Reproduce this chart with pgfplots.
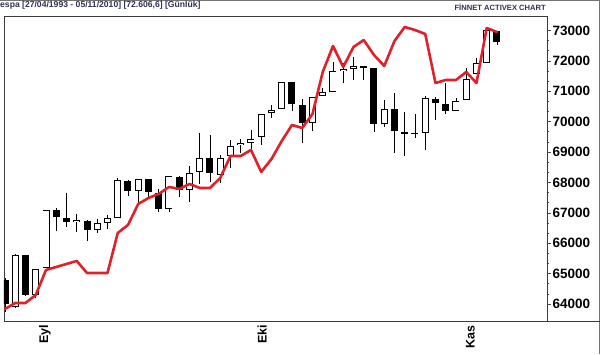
\documentclass[border=0pt]{standalone}
\usepackage{pgfplots}
\pgfplotsset{compat=1.18}
\usepackage{pgfplotstable}
\usepackage{fontspec}
\setmainfont{Liberation Sans}
\definecolor{redline}{RGB}{222,34,42}
\definecolor{headcol}{RGB}{48,48,88}
\definecolor{framecol}{RGB}{60,60,60}

% x o h l c  (white candles: close >= open)
\pgfplotstableread{
x o h l c
1 63903 65647 63870 65614
3 64298 65153 64199 65153
4 65186 67094 65186 67094
7 66700 66963 66370 66765
9 66436 66798 66337 66667
10 66667 66930 66469 66831
11 66831 68147 66831 68082
13 67719 68114 67325 68114
16 67127 68213 67029 68213
18 67752 68542 67358 68312
19 68345 69628 67950 68805
21 68246 68904 67983 68805
22 68871 69398 68476 69200
23 69233 69431 68970 69299
24 69299 69727 68970 69431
25 69496 70253 69233 70253
26 70286 70549 70122 70384
27 70417 71306 70417 71306
30 69957 70812 69694 70812
31 70845 71108 70845 70977
32 70977 71964 70977 71668
33 71668 71931 71273 71733
34 71733 72128 71371 71832
37 69924 70714 69825 70417
41 69628 70845 69069 70779
44 70352 70779 70352 70681
45 70714 71766 70714 71404
46 71569 72095 71569 71931
47 71931 73016 71931 73016
}\whitecandles

% black candles: close < open
\pgfplotstableread{
x o h l c
0 64792 64857 63738 64002
2 65614 65614 64265 64298
5 67094 67160 66403 66864
6 66831 67654 66535 66700
8 66733 66765 66074 66436
12 68049 68082 67555 67719
14 68114 68114 67489 67687
15 67654 67785 67029 67127
17 68180 68213 67522 67752
20 68805 69562 68016 68312
28 71306 71306 70352 70582
29 70549 70746 69299 69957
35 71832 71832 71371 71766
36 71766 71766 69661 69924
38 70417 70944 68970 69694
39 69661 70319 68871 69595
40 69628 70253 69464 69595
42 70746 70812 70056 70615
43 70582 71273 70253 70352
48 72984 72984 72523 72607
}\blackcandles

\pgfplotstableread{
x y
0 63837
1 64035
2 64035
3 64298
4 65120
5 65219
6 65318
7 65417
8 65021
9 65021
10 65021
11 66337
12 66601
13 67292
14 67489
15 67621
16 67851
17 67785
18 67950
19 67818
20 67818
21 68147
22 68871
23 68871
24 69069
25 68345
26 68772
27 69365
28 69891
29 69792
30 70253
31 71635
32 72490
33 71799
34 72457
35 72687
36 72194
37 71832
38 72654
39 73115
40 73016
41 72885
42 71273
43 71371
44 71371
45 71635
46 71273
47 73082
48 72951
}\redseries

\begin{document}
\begin{tikzpicture}[x=1pt,y=1pt]
\path[use as bounding box] (0,0) rectangle (600,354);
\fill[white] (0,0) rectangle (600,354);
% outer border lines
\draw[black!55, line width=0.8pt] (0,353.6) -- (599.6,353.6) -- (599.6,0);
\draw[framecol, line width=0.8pt] (547,33) -- (600,33);

\node[anchor=west, inner sep=0pt, font=\fontsize{8.6}{9}\selectfont\bfseries, text=headcol] at (0,348.3) {espa [27/04/1993 - 05/11/2010] [72.606,6] [Günlük]};
\node[anchor=east, inner sep=0pt, font=\fontsize{7.6}{8}\selectfont\bfseries, text=headcol] at (546,347) {FİNNET ACTIVEX CHART};

\begin{axis}[
  at={(4pt,33pt)}, anchor=south west,
  scale only axis, width=543pt, height=305pt,
  xmin=-0.098, xmax=52.88,
  ymin=63441, ymax=73477,
  axis line style={framecol, line width=0.8pt},
  ytick={64000,65000,...,73000},
  scaled y ticks=false,
  yticklabel={\pgfmathprintnumber[fixed, precision=0, 1000 sep={}, assume math mode=true]{\tick}},
  minor y tick num=2,
  yticklabel pos=right,
  ytick pos=right,
  tick align=outside,
  major tick length=4pt,
  minor tick length=2pt,
  tick style={black!70, line width=0.6pt},
  yticklabel style={font=\fontsize{13.5}{14}\selectfont\bfseries, anchor=west, inner sep=0pt, xshift=1.5pt},
  xtick={3.7,24.9,45.2},
  xticklabels={Eyl,Eki,Kas},
  xtick pos=bottom,
  major x tick style={draw=none},
  xticklabel style={rotate=90, anchor=east, font=\fontsize{12.5}{13}\selectfont\bfseries, inner sep=0pt, yshift=-2pt},
  clip=true,
]
% wicks
\addplot[draw=none, mark=none, forget plot,
  error bars/.cd, y dir=plus, y explicit, error mark=none,
  error bar style={draw=black, solid, line width=0.9pt}]
  table[x=x, y=l, y error plus expr=\thisrow{h}-\thisrow{l}] {\whitecandles};
\addplot[draw=none, mark=none, forget plot,
  error bars/.cd, y dir=plus, y explicit, error mark=none,
  error bar style={draw=black, solid, line width=0.9pt}]
  table[x=x, y=l, y error plus expr=\thisrow{h}-\thisrow{l}] {\blackcandles};
% black bodies
\addplot[draw=none, mark=none, forget plot,
  error bars/.cd, y dir=plus, y explicit, error mark=none,
  error bar style={draw=black, solid, line width=7pt}]
  table[x=x, y=c, y error plus expr=\thisrow{o}-\thisrow{c}] {\blackcandles};
% white bodies: outline then fill
\addplot[draw=none, mark=none, forget plot,
  error bars/.cd, y dir=plus, y explicit, error mark=none,
  error bar style={draw=black, solid, line width=7pt}]
  table[x=x, y=o, y error plus expr=\thisrow{c}-\thisrow{o}] {\whitecandles};
\addplot[draw=none, mark=none, forget plot,
  error bars/.cd, y dir=plus, y explicit, error mark=none,
  error bar style={draw=white, solid, line width=5.2pt, shorten <=0.9pt, shorten >=0.9pt}]
  table[x=x, y=o, y error plus expr=\thisrow{c}-\thisrow{o}] {\whitecandles};
% red line
\addplot[redline, line width=2.6pt, line join=round, line cap=round, mark=none] table[x=x, y=y] {\redseries};
\end{axis}
\end{tikzpicture}
\end{document}
